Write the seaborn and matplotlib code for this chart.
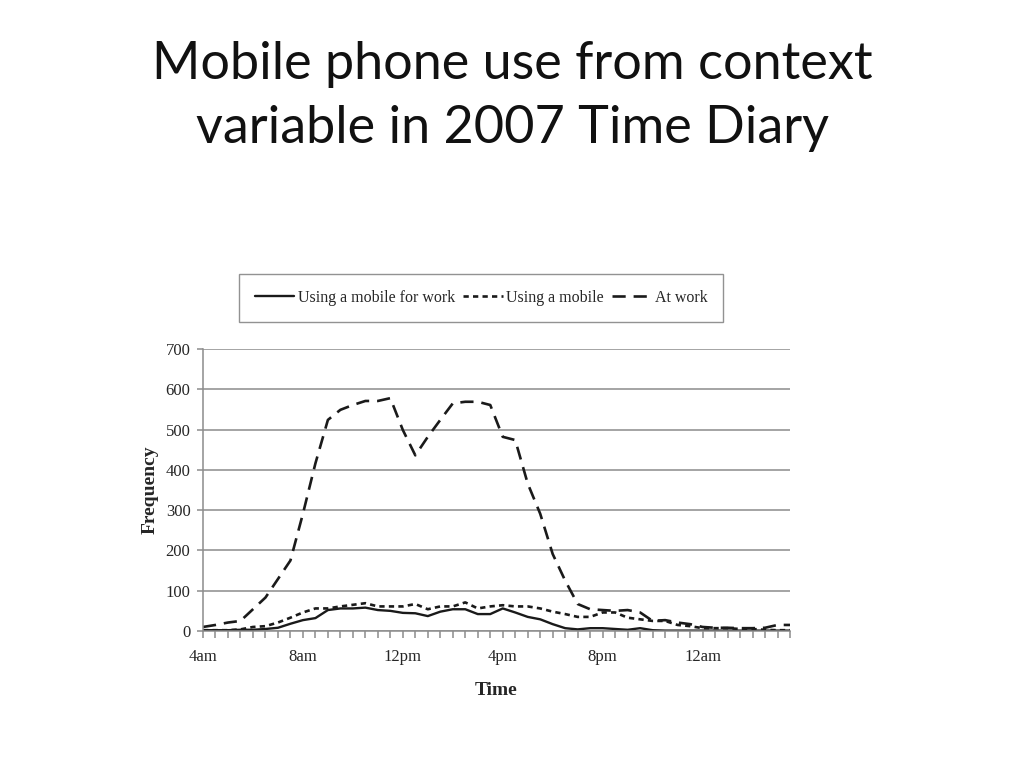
import numpy as np
import pandas as pd
import matplotlib
matplotlib.use("Agg")
import matplotlib.pyplot as plt
import seaborn as sns

# half-hour slots from 4am (index 0) to 3:30am (index 47)
slots = list(range(48))
tick_pos = [0, 8, 16, 24, 32, 40]
tick_labels = ["4am", "8am", "12pm", "4pm", "8pm", "12am"]

mobile_work = [2, 2, 2, 3, 3, 5, 8, 18, 27, 32, 52, 56, 56, 58, 52, 50,
               45, 44, 37, 48, 54, 54, 42, 42, 56, 46, 35, 29, 17, 7, 4, 7,
               7, 5, 3, 7, 2, 1, 1, 1, 1, 1, 1, 1, 1, 1, 1, 1]
mobile_any = [2, 2, 2, 4, 10, 12, 21, 33, 46, 56, 56, 61, 65, 69, 61, 61,
              61, 67, 54, 61, 61, 71, 56, 61, 64, 61, 61, 56, 48, 42, 35, 35,
              46, 46, 33, 29, 25, 25, 15, 12, 7, 7, 7, 5, 5, 3, 2, 2]
at_work = [10, 15, 21, 25, 54, 83, 129, 175, 291, 416, 524, 549, 561, 571, 571, 578,
           499, 436, 482, 524, 565, 569, 569, 561, 482, 474, 366, 291, 191, 125, 67, 54,
           52, 50, 52, 46, 25, 27, 21, 17, 10, 8, 8, 7, 7, 8, 15, 15]

df = pd.DataFrame({"slot": slots, "work": mobile_work, "mobile": mobile_any, "atwork": at_work})

sns.set_style("white")
plt.rcParams["font.family"] = ["Liberation Serif", "DejaVu Serif"]

fig = plt.figure(figsize=(10.24, 7.68), dpi=100)
ax = fig.add_axes([203 / 1024, 137 / 768, 587 / 1024, 282 / 768])

line_col = "#1a1a1a"
sns.lineplot(data=df, x="slot", y="work", ax=ax, color=line_col, lw=1.7,
             label="Using a mobile for work")
sns.lineplot(data=df, x="slot", y="mobile", ax=ax, color=line_col, lw=1.9,
             linestyle=(0, (2.0, 1.6)), label="Using a mobile")
sns.lineplot(data=df, x="slot", y="atwork", ax=ax, color=line_col, lw=1.9,
             linestyle=(0, (5.0, 3.0)), label="At work")

ax.set_xlim(0, 47)
ax.set_ylim(0, 700)
ax.set_yticks(range(0, 701, 100))
ax.set_xticks(tick_pos)
ax.set_xticklabels(tick_labels)
ax.set_xticks(slots, minor=True)
ax.yaxis.grid(True, color="#8c8c8c", lw=1.1)
ax.xaxis.grid(False)
for s in ["top", "right"]:
    ax.spines[s].set_visible(False)
for s in ["left", "bottom"]:
    ax.spines[s].set_color("#8c8c8c")
    ax.spines[s].set_linewidth(1.1)
ax.tick_params(axis="y", left=True, length=4, width=1.1, color="#8c8c8c",
               labelsize=12, pad=5)
ax.tick_params(axis="x", which="both", bottom=True, length=5, width=1.1,
               color="#8c8c8c", direction="out")
ax.tick_params(axis="x", which="major", labelsize=12, pad=8)
ax.set_xlabel("Time", fontsize=14, fontweight="bold", labelpad=12)
ax.set_ylabel("Frequency", fontsize=14, fontweight="bold", labelpad=5)

leg = ax.legend(loc="center", ncol=3, frameon=True, fancybox=False,
                fontsize=11.5, handlelength=2.5, handletextpad=0.2,
                columnspacing=0.5, borderpad=1.0)
leg.set_bbox_to_anchor((481 / 1024, 1 - 298 / 768), transform=fig.transFigure)
leg.get_frame().set_edgecolor("#777777")
leg.get_frame().set_linewidth(1.0)

fig.text(0.5, 1 - 64 / 768, "Mobile phone use from context", ha="center", va="center",
         fontsize=37.5, family="Lato", color="#111111")
fig.text(0.5, 1 - 129 / 768, "variable in 2007 Time Diary", ha="center", va="center",
         fontsize=37.5, family="Lato", color="#111111")

plt.savefig("out.png", dpi=100)
